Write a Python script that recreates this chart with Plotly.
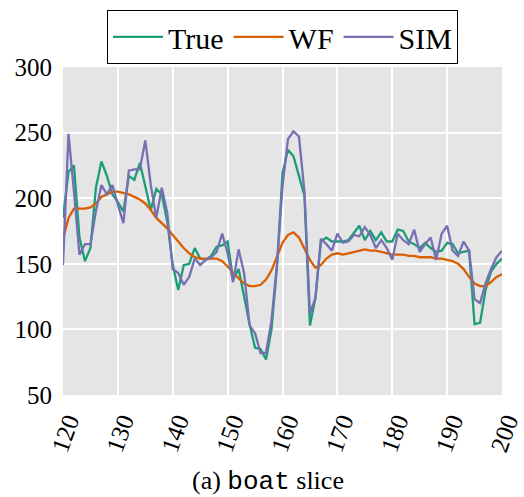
import plotly.graph_objects as go

x_vals = list(range(120, 201))

true_vals = [185, 220, 225, 170, 152, 162, 208, 228, 217, 203,
             197, 190, 217, 214, 227, 208, 191, 207, 203, 182,
             149, 130, 149, 150, 162, 154, 153, 156, 163, 164,
             167, 138, 146, 125, 104, 86, 85, 77, 100, 148,
             219, 237, 232, 217, 202, 103, 124, 167, 170, 167,
             167, 167, 168, 174, 179, 168, 175, 168, 174, 167,
             167, 176, 175, 167, 165, 162, 166, 162, 159, 160,
             166, 165, 158, 159, 160, 104, 105, 130, 144, 150,
             154]

wf_vals = [169, 185, 192, 192, 192, 193, 196, 201, 203, 205,
           205, 204, 203, 201, 199, 196, 191, 185, 181, 177,
           172, 167, 162, 158, 155, 154, 154, 154, 154, 152,
           148, 143, 139, 135, 133, 133, 134, 138, 145, 155,
           166, 172, 174, 170, 162, 153, 147, 149, 154, 157,
           158, 157, 158, 159, 160, 161, 160, 160, 159, 158,
           157, 157, 157, 156, 156, 155, 155, 155, 154, 154,
           153, 152, 150, 146, 140, 135, 133, 133, 136, 140,
           142]

sim_vals = [149, 249, 205, 157, 165, 165, 190, 210, 203, 210,
            195, 181, 221, 222, 222, 244, 210, 185, 208, 189,
            146, 143, 134, 140, 154, 149, 153, 155, 159, 173,
            158, 136, 161, 143, 103, 97, 82, 82, 107, 150,
            209, 245, 251, 247, 205, 112, 124, 169, 165, 160,
            173, 166, 167, 172, 171, 178, 172, 162, 168, 162,
            153, 173, 168, 165, 176, 159, 165, 170, 153, 173,
            179, 160, 156, 167, 160, 123, 120, 135, 146, 155,
            160]

x_ticks = [120, 130, 140, 150, 160, 170, 180, 190, 200]
y_ticks = [50, 100, 150, 200, 250, 300]

SERIF = "Liberation Serif"

fig = go.Figure()
fig.add_trace(go.Scatter(x=x_vals, y=true_vals, mode="lines", name="True",
                         line=dict(color="#1b9e77", width=2.3)))
fig.add_trace(go.Scatter(x=x_vals, y=wf_vals, mode="lines", name="WF",
                         line=dict(color="#d95f02", width=2.3)))
fig.add_trace(go.Scatter(x=x_vals, y=sim_vals, mode="lines", name="SIM",
                         line=dict(color="#7570b3", width=2.3)))

fig.update_layout(
    width=524, height=497,
    margin=dict(l=63, r=22, t=67, b=102, autoexpand=False),
    plot_bgcolor="#e5e5e5",
    paper_bgcolor="white",
    font=dict(family=SERIF, size=25, color="black"),
    showlegend=True,
    legend=dict(orientation="h", x=0.5, xanchor="center", y=1.174, yanchor="top",
                bordercolor="black", borderwidth=1, bgcolor="white",
                font=dict(family=SERIF, size=30, color="black"),
                itemwidth=50, tracegroupgap=0),
    xaxis=dict(range=[120, 200], tickvals=x_ticks, ticktext=[str(v) for v in x_ticks],
               tickangle=-70, showgrid=True, gridcolor="white", gridwidth=1.5,
               zeroline=False, showline=False, ticks="", automargin=False,
               ticklabeloverflow="allow",
               tickfont=dict(family=SERIF, size=25, color="black"),
               ticklabelshift=5, ticklabelstandoff=6),
    yaxis=dict(range=[50, 300], tickvals=y_ticks, ticktext=[str(v) for v in y_ticks],
               showgrid=True, gridcolor="white", gridwidth=1.5,
               zeroline=False, showline=False, ticks="", automargin=False,
               tickfont=dict(family=SERIF, size=25, color="black"),
               ticklabelstandoff=10),
    annotations=[dict(text="(a) <span style='font-family:Liberation Mono'>boat</span> slice",
                      xref="paper", yref="paper", x=(268 - 63) / 439, y=(395 - 481) / 328,
                      xanchor="center", yanchor="middle", showarrow=False,
                      font=dict(family=SERIF, size=26, color="black"))],
)

fig.write_html("out.html", config={"displayModeBar": False},
               post_script="document.body.style.margin='0';document.body.style.padding='0';")
